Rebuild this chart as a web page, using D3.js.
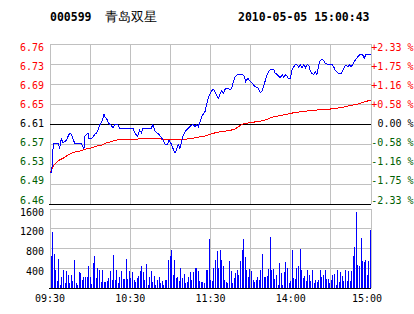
<!DOCTYPE html>
<html>
<head>
<meta charset="utf-8">
<script src="https://cdn.jsdelivr.net/npm/d3@7"></script>
<style>
  html, body { margin: 0; padding: 0; background: #fff; }
  svg { display: block; }
  text { font-family: "DejaVu Sans Mono", "Liberation Mono", monospace; }
</style>
</head>
<body>
<svg id="chart" width="414" height="314"></svg>
<script>
// header
const stockCode = '000599', stockName = '青岛双星', stamp = '2010-05-05 15:00:43';
const prevClose = 6.61;

// ticks and labels
const pctTicks = [2.33, 1.7475, 1.165, 0.5825, 0, -0.5825, -1.165, -1.7475, -2.33];
const priceLabels = ['6.76', '6.73', '6.69', '6.65', '6.61', '6.57', '6.53', '6.49', '6.46'];
const pctLabels = ['+2.33 %', '+1.75 %', '+1.16 %', '+0.58 %', '0.00 %', '-0.58 %', '-1.16 %', '-1.75 %', '-2.33 %'];
const volTicks = [1600, 1200, 800, 400];
const timeTicks = [0, 60, 120, 180, 240];
const timeLabels = ['09:30', '10:30', '11:30', '14:00', '15:00'];

// price line (minutes from 09:30, price)
const priceMin = [0, 1.3, 2.5, 6, 7.3, 8.4, 9.7, 11, 12.2, 13.5, 14.7, 15.9, 17.2, 18.5, 23.4, 24.7, 25.4, 25.9, 27.1, 28.4,
  28.9, 30.9, 32.1, 33.4, 34.6, 35.9, 37.2, 38.4, 39.6, 40.4, 41.3, 42.8, 43.9, 45.8, 47.1, 48.4, 50.8, 52.1, 62.1, 63.3,
  65.3, 67.1, 68.3, 69.5, 75.7, 77, 78.3, 79.5, 81, 82.2, 84.7, 86, 88, 89, 91, 92.2, 93.5, 94.7, 95.9, 97.2,
  98.5, 99.7, 100.9, 103.4, 105.4, 107.1, 108.4, 109.7, 110.9, 112.1, 113.4, 114.6, 115.9, 117.2, 118.4, 119.1, 120.9, 122.1, 123.4, 124.6,
  125.8, 127.1, 128.4, 129.6, 130.8, 133.3, 134.6, 135.9, 137, 138.3, 139.6, 142.1, 143.8, 145.3, 146.3, 147.8, 149.5, 151.3, 153.3, 155.7,
  157, 158.3, 159.8, 161, 162.2, 163.5, 164.7, 167.3, 168.4, 169.7, 171, 172.2, 173.5, 174.7, 175.9, 177.2, 178.5, 179.7, 180.9, 182.2,
  183.4, 184.7, 185.9, 187.1, 188.4, 189.7, 190.9, 192.1, 193.4, 194.6, 195.9, 197.2, 198.4, 199.6, 200.9, 202.1, 203.4, 204.6, 205.8, 208.4,
  210.8, 212.1, 213.3, 215.9, 217.8, 218.8, 220.3, 221.3, 222.8, 223.8, 225, 226.3, 227.3, 228.8, 230.1, 231.3, 232.5, 233.8, 235, 236.3, 240];
const priceVal = [6.516, 6.518, 6.573, 6.573, 6.564, 6.582, 6.574, 6.576, 6.579, 6.586, 6.592, 6.590, 6.581, 6.573, 6.573, 6.566, 6.563, 6.586, 6.590, 6.592,
  6.582, 6.582, 6.584, 6.590, 6.592, 6.598, 6.608, 6.613, 6.621, 6.629, 6.623, 6.618, 6.611, 6.608, 6.602, 6.609, 6.609, 6.602, 6.602, 6.594,
  6.586, 6.598, 6.593, 6.602, 6.602, 6.609, 6.598, 6.593, 6.592, 6.587, 6.579, 6.571, 6.571, 6.579, 6.570, 6.561, 6.555, 6.561, 6.570, 6.563,
  6.577, 6.589, 6.595, 6.602, 6.607, 6.609, 6.605, 6.609, 6.605, 6.614, 6.624, 6.629, 6.634, 6.648, 6.661, 6.666, 6.674, 6.677, 6.672, 6.666,
  6.659, 6.667, 6.674, 6.669, 6.677, 6.679, 6.675, 6.679, 6.691, 6.701, 6.704, 6.706, 6.706, 6.701, 6.691, 6.698, 6.693, 6.688, 6.682, 6.679,
  6.671, 6.672, 6.683, 6.694, 6.704, 6.711, 6.715, 6.715, 6.707, 6.706, 6.702, 6.699, 6.705, 6.700, 6.705, 6.702, 6.697, 6.697, 6.713, 6.720,
  6.724, 6.724, 6.720, 6.724, 6.718, 6.724, 6.718, 6.724, 6.723, 6.713, 6.707, 6.706, 6.710, 6.705, 6.723, 6.733, 6.734, 6.733, 6.726, 6.725,
  6.725, 6.720, 6.713, 6.707, 6.707, 6.713, 6.720, 6.724, 6.720, 6.724, 6.720, 6.724, 6.729, 6.735, 6.739, 6.743, 6.744, 6.743, 6.737, 6.744, 6.744];

// average price line
const avgMin = [0, 1, 2.2, 3.5, 4.7, 7.3, 9.7, 12.2, 14.7, 18.5, 22.2, 24.7, 27.1, 30.9, 35.9, 39.6, 42.1, 45.8, 49.6, 58.3,
  65.8, 68.3, 80.7, 83.5, 87.3, 98.5, 105.9, 113.4, 115.9, 120.9, 124.6, 133.3, 138.3, 142.1, 144.5, 148.3, 153.3, 158.3, 162.2, 166,
  173.5, 180.9, 188.4, 195.9, 203.4, 210.8, 218.3, 223.3, 229.5, 233.3, 237, 240];
const avgVal = [6.516, 6.521, 6.528, 6.532, 6.536, 6.541, 6.544, 6.548, 6.552, 6.556, 6.558, 6.560, 6.562, 6.564, 6.568, 6.570, 6.574, 6.576, 6.579, 6.581,
  6.581, 6.582, 6.582, 6.581, 6.580, 6.580, 6.582, 6.586, 6.587, 6.591, 6.594, 6.597, 6.600, 6.607, 6.610, 6.612, 6.614, 6.616, 6.619, 6.623,
  6.627, 6.631, 6.634, 6.636, 6.638, 6.639, 6.642, 6.645, 6.648, 6.651, 6.654, 6.656];

// volume bars, in order through the session
const volumes = [655, 1127, 690, 358, 135, 587, 68, 223, 358, 100, 351, 270, 100, 270, 135, 574, 100, 60, 317, 304,
  169, 223, 223, 223, 452, 223, 80, 506, 655, 203, 412, 371, 115, 371, 115, 115, 135, 203, 351, 169,
  675, 169, 358, 100, 223, 351, 182, 182, 587, 182, 338, 203, 317, 169, 115, 203, 250, 351,
  452, 317, 169, 493, 68, 223, 338, 115, 250, 68, 169, 223, 100, 135, 68, 169, 155, 574, 641, 776,
  270, 574, 203, 223, 135, 405, 203, 290, 100, 115, 223, 317, 169, 317, 405, 405, 338, 135, 115, 115,
  100, 358, 358, 992, 169, 135, 405, 574, 743, 405, 763, 574, 439, 169, 115, 100, 540, 338, 100, 203,
  304, 358, 270, 540, 763, 992, 628, 358, 223, 385, 338, 169, 115, 169, 223, 169, 358, 695, 223, 223,
  250, 385, 1033,
  358, 385, 182, 270, 68, 506, 304, 68, 317, 520, 405, 100, 135, 776, 203, 182, 405, 439, 790, 371,
  203, 250, 135, 358, 270, 135, 371, 100, 169, 115, 169, 358, 223, 270, 371, 182, 182, 100, 169, 270,
  290, 68, 371, 115, 317, 236, 135, 371, 135, 338, 135, 338, 655, 830, 1532, 472, 439, 1013, 540, 520,
  560, 270, 540, 1168];

const RED = '#ff0000', GREEN = '#006000', GRID = '#c0c0c0';
const svg = d3.select('#chart');

const x = d3.scaleLinear().domain([0, 240]).range([50, 371]);
const y = d3.scaleLinear()
  .domain([prevClose * (1 - 0.0233), prevClose * (1 + 0.0233)])
  .range([204, 44]);
const labelY = d3.scaleLinear().domain(y.domain()).range([203.5, 51]);
const yVol = d3.scaleLinear().domain([0, 1600]).range([288, 209]);
const xVol = d3.scaleLinear().domain([0, volumes.length - 1]).range([50.5, 370]);

const pctPrice = p => prevClose * (1 + p / 100);
const tickColor = p => p > 0 ? RED : (p < 0 ? GREEN : '#000');

// header texts
svg.append('text').attr('x', 50).attr('y', 21)
  .attr('font-size', 11.5).attr('font-weight', 'bold').text(stockCode);
svg.append('text').attr('x', 105).attr('y', 21)
  .attr('font-family', '"Noto Sans CJK SC", sans-serif')
  .attr('font-size', 12.5).text(stockName);
svg.append('text').attr('x', 238).attr('y', 21)
  .attr('font-size', 11.5).attr('font-weight', 'bold').text(stamp);

const grid = svg.append('g').attr('shape-rendering', 'crispEdges');

// horizontal grid, price panel
grid.selectAll('.hp').data(pctTicks.filter(p => p !== 0 && p !== -2.33)).join('line')
  .attr('x1', x(0)).attr('x2', x(240))
  .attr('y1', d => y(pctPrice(d))).attr('y2', d => y(pctPrice(d)))
  .attr('stroke', GRID);
// horizontal grid, volume panel
grid.selectAll('.hv').data(volTicks).join('line')
  .attr('x1', x(0)).attr('x2', x(240))
  .attr('y1', d => yVol(d)).attr('y2', d => yVol(d))
  .attr('stroke', GRID);
// vertical grid in both panels
const vTicks = d3.range(0, 241, 30);
[[y.range()[1], y.range()[0]], [yVol(1600), yVol(0)]].forEach(([top, bottom]) => {
  grid.append('g').selectAll('line').data(vTicks).join('line')
    .attr('x1', d => x(d)).attr('x2', d => x(d))
    .attr('y1', top).attr('y2', bottom)
    .attr('stroke', GRID);
});

// black base lines
grid.append('line').attr('x1', x(0)).attr('x2', x(240))
  .attr('y1', y(prevClose)).attr('y2', y(prevClose)).attr('stroke', '#000');
grid.append('line').attr('x1', x(0) - 1).attr('x2', x(240))
  .attr('y1', y.range()[0]).attr('y2', y.range()[0]).attr('stroke', '#000');
grid.append('line').attr('x1', x(0) - 1).attr('x2', x(240))
  .attr('y1', yVol(0)).attr('y2', yVol(0)).attr('stroke', '#000');

// price axis labels
svg.append('g').selectAll('text').data(pctTicks).join('text')
  .attr('x', 44).attr('y', d => labelY(pctPrice(d)))
  .attr('text-anchor', 'end').attr('font-size', 10)
  .attr('fill', tickColor)
  .text((d, i) => priceLabels[i]);
svg.append('g').selectAll('text').data(pctTicks).join('text')
  .attr('x', 413.5).attr('y', d => labelY(pctPrice(d)))
  .attr('text-anchor', 'end').attr('font-size', 10)
  .attr('fill', tickColor)
  .text((d, i) => pctLabels[i]);

// volume axis labels
svg.append('g').selectAll('text').data(volTicks).join('text')
  .attr('x', 44).attr('y', d => yVol(d) + 6.5)
  .attr('text-anchor', 'end').attr('font-size', 10)
  .text(d => d);

// time labels
svg.append('g').selectAll('text').data(timeTicks).join('text')
  .attr('x', (d, i) => x(d) - (i === timeTicks.length - 1 ? 4 : 0))
  .attr('y', 302)
  .attr('text-anchor', 'middle').attr('font-size', 10)
  .text((d, i) => timeLabels[i]);

// volume bars
svg.append('g').attr('shape-rendering', 'crispEdges')
  .selectAll('rect').data(volumes).join('rect')
  .attr('x', (d, i) => Math.round(xVol(i)))
  .attr('width', 1)
  .attr('y', d => yVol(d))
  .attr('height', d => yVol(0) - yVol(d))
  .attr('fill', '#0000ff');

// average and price lines, drawn aliased like the original
const line = d3.line().x(d => x(d[0])).y(d => y(d[1]));
svg.append('path').datum(d3.zip(avgMin, avgVal))
  .attr('d', line).attr('fill', 'none').attr('stroke', RED)
  .attr('stroke-width', 1).attr('shape-rendering', 'crispEdges');
svg.append('path').datum(d3.zip(priceMin, priceVal))
  .attr('d', line).attr('fill', 'none').attr('stroke', '#0000ff')
  .attr('stroke-width', 1).attr('shape-rendering', 'crispEdges');
</script>
</body>
</html>
